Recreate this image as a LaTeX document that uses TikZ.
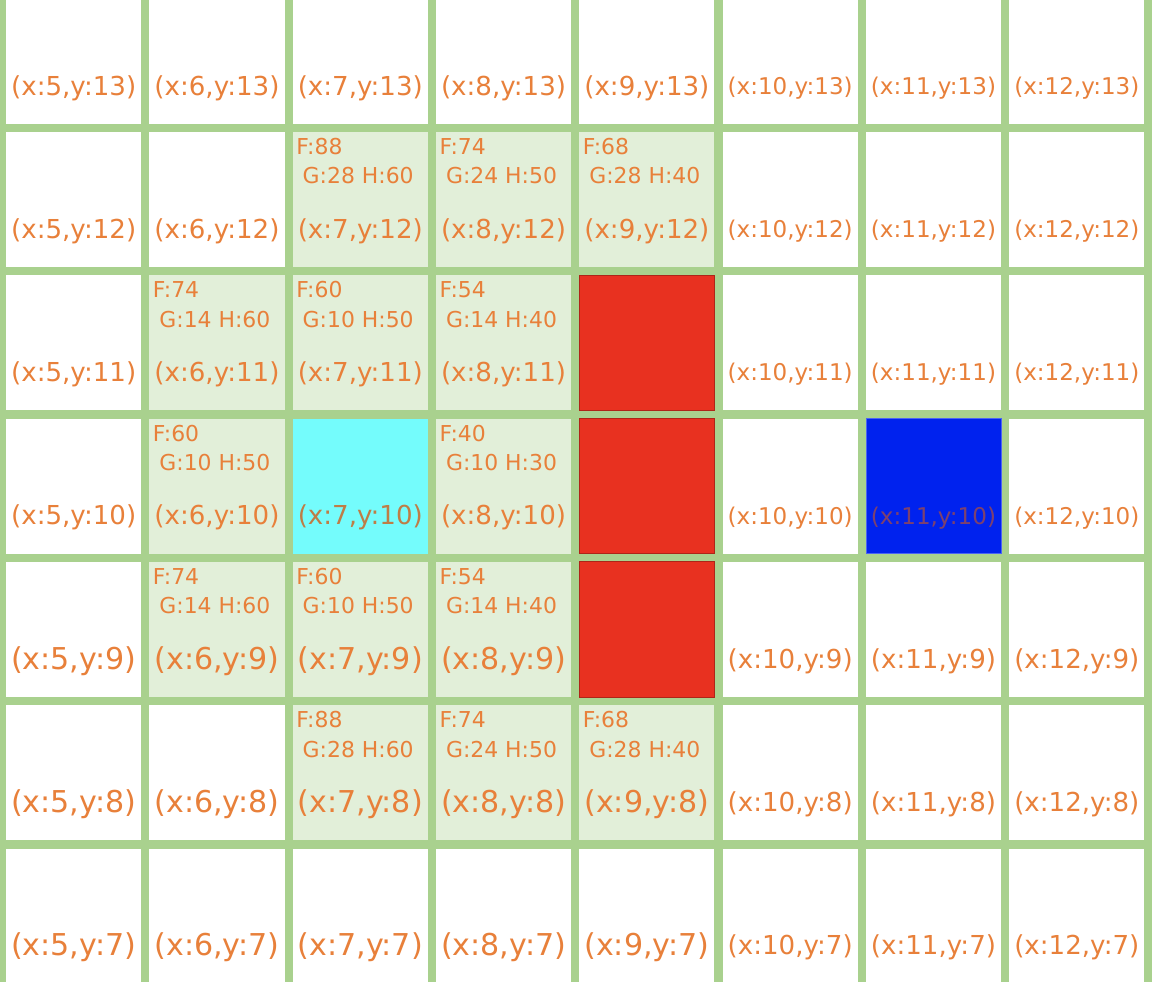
\documentclass[tikz,border=0pt]{standalone}
\usepackage{fontspec}
\setmainfont{DejaVu Sans}
\usepackage{graphicx}

\definecolor{gridgreen}{RGB}{169,209,142}
\definecolor{closedgreen}{RGB}{226,239,217}
\definecolor{labelorange}{RGB}{232,128,58}
\definecolor{wallred}{RGB}{232,49,32}
\definecolor{goalblue}{RGB}{0,34,238}
\definecolor{startcyan}{RGB}{116,252,252}
\definecolor{goaltext}{RGB}{125,65,110}
\definecolor{starttext}{RGB}{190,125,70}

\begin{document}
\begin{tikzpicture}[x=2cm,y=2cm]

        \useasboundingbox (4.986,7.04) rectangle (13.025,13.893);
        \clip (4.986,7.04) rectangle (13.025,13.893);
        \fill[gridgreen] (4.986,7.04) rectangle (13.025,13.893);

        % open cells
        \begin{scope}[every node/.style={rectangle, minimum size=1.885cm, inner sep=0pt, fill=white}]
          \foreach \x in {5,...,12}
            \foreach \y in {7,...,13}
              \node (c-\x-\y) at (\x+0.5,\y+0.5) {};
        \end{scope}

        % closed list
        \begin{scope}[every node/.style={rectangle, minimum size=1.885cm, inner sep=0pt, fill=closedgreen}]
          \foreach \x/\y in {7/12, 8/12, 9/12, 6/11, 7/11, 8/11, 6/10, 8/10, 6/9, 7/9, 8/9, 7/8, 8/8, 9/8}
            \node (k-\x-\y) at (c-\x-\y) {};
        \end{scope}

        % coordinates
        \begin{scope}[every node/.style={inner sep=0pt, text=labelorange}]
          \foreach \x in {5,...,12}
            \foreach \y in {7,...,13}
              \node (l-\x-\y) at (\x+0.5,\y+0.28) {\resizebox{1.745cm}{!}{(x:\x,y:\y)}};
        \end{scope}

        % costs
        \begin{scope}[every node/.style={inner sep=0pt, anchor=west, text=labelorange,
                      font=\fontsize{8.7}{10}\selectfont}]
          \foreach \x/\y/\f/\g/\h in {7/12/88/28/60, 8/12/74/24/50, 9/12/68/28/40,
                                      6/11/74/14/60, 7/11/60/10/50, 8/11/54/14/40,
                                      6/10/60/10/50, 8/10/40/10/30,
                                      6/9/74/14/60, 7/9/60/10/50, 8/9/54/14/40,
                                      7/8/88/28/60, 8/8/74/24/50, 9/8/68/28/40}
          {
            \node (f-\x-\y) at (\x+0.05,\y+0.871) {F:\f};
            \node (gh-\x-\y) at (\x+0.095,\y+0.665) {G:\g{} H:\h};
          }
        \end{scope}

        % start, goal and walls
        \begin{scope}[every node/.style={rectangle, minimum size=1.885cm, inner sep=0pt}]
          \node[fill=startcyan] (start) at (c-7-10) {};
          \node[minimum size=0pt, text=starttext] (l-start) at (7.5,10.28) {\resizebox{1.745cm}{!}{(x:7,y:10)}};
          \node[fill=goalblue, draw=goalblue!70!white, line width=0.3pt] (goal) at (c-11-10) {};
          \node[minimum size=0pt, text=goaltext] (l-goal) at (11.5,10.28) {\resizebox{1.745cm}{!}{(x:11,y:10)}};
          \foreach \y in {9,10,11}
            \node[fill=wallred, draw=wallred!75!black, line width=0.4pt] (wall-\y) at (c-9-\y) {};
        \end{scope}

      \end{tikzpicture}
\end{document}
